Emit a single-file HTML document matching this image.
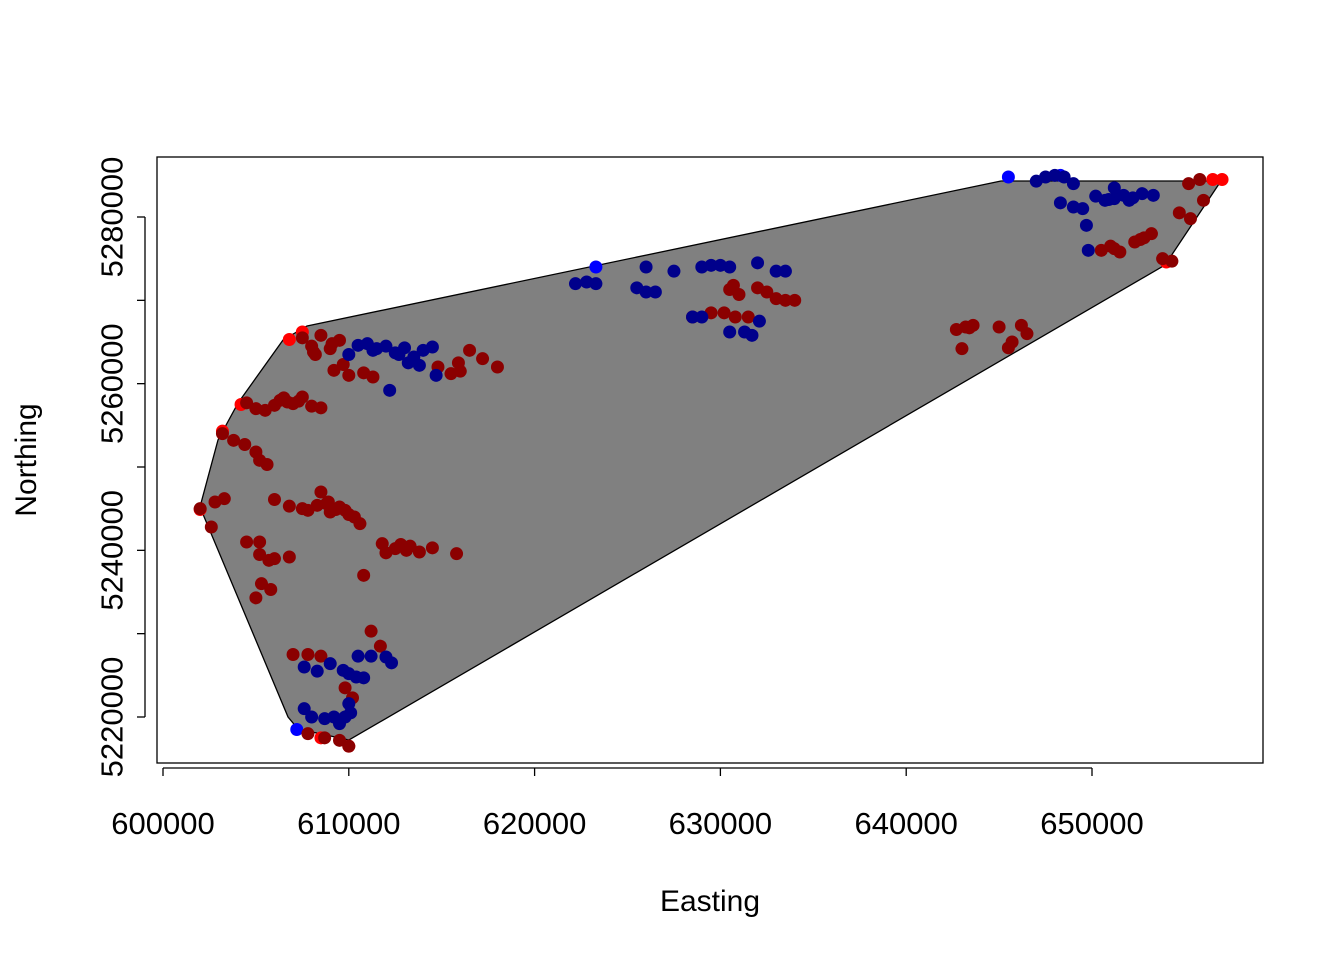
<!DOCTYPE html>
<html><head><meta charset="utf-8"><style>
body{margin:0;background:#fff}
svg text{font-family:"Liberation Sans",Arial,sans-serif;fill:#000}
</style></head><body>
<svg id="chart" width="1344" height="960" xmlns="http://www.w3.org/2000/svg">
<rect width="1344" height="960" fill="#fff"/>
<g id="hull"></g>
<g id="pts"></g>
<rect x="157" y="157" width="1106" height="606" fill="none" stroke="#000" stroke-width="1.3"/>
<g id="axes"></g>
<text x="710" y="911" font-size="30" text-anchor="middle">Easting</text>
<text x="36" y="460" font-size="30" text-anchor="middle" transform="rotate(-90 36 460)">Northing</text>
</svg>
<script>
const xTicks=[600000,610000,620000,630000,640000,650000];
const yTicks=[5220000,5230000,5240000,5250000,5260000,5270000,5280000];
const yTickLabels=["5220000","","5240000","","5260000","","5280000"];
const hullX=[607750,645100,656940,653930,610010,607270,606730,601990,602960,604040,606460];
const hullY=[5266920,5284320,5284320,5274240,5217240,5218560,5220000,5245200,5253240,5257680,5265240];
const darkRedX=[607500,608000,608500,609000,609500,608200,609200,610000,610800,611300,609700,604500,605000,605500,606500,607000,607500,608000,608500,606000,603200,603800,604400,605000,605600,605200,602000,602800,603300,602600,606000,606800,607500,608300,609000,609500,610000,610600,608500,607800,604500,605200,605200,606000,606800,605700,605300,605800,605000,610800,611800,612500,613300,613800,612000,614500,615800,611200,611700,607000,607800,608500,609800,610200,607800,608700,609500,610000,614800,615500,616000,616500,617200,618000,615900,628500,629500,630200,630800,630500,631000,631500,632500,633000,633500,634000,632000,642700,643200,643600,645000,646200,646500,645700,643000,645500,650500,651000,651500,652300,652800,653200,653800,654300,654700,655300,655800,656000,655200,608800,609300,609800,610300,609100,606300,606700,607300,612800,613100,643400,651200,652600,608100,608900,630700];
const darkRedY=[5265500,5264500,5265800,5264200,5265200,5263500,5261600,5261000,5261300,5260800,5262300,5257700,5257000,5256800,5258300,5257600,5258400,5257300,5257100,5257400,5254000,5253200,5252700,5251800,5250300,5250800,5245000,5245800,5246200,5242800,5246100,5245300,5245000,5245400,5244600,5245200,5244300,5243200,5247000,5244800,5241000,5241000,5239500,5239000,5239200,5238800,5236000,5235300,5234300,5237000,5240800,5240200,5240500,5239800,5239700,5240300,5239600,5230300,5228500,5227500,5227500,5227300,5223500,5222300,5218000,5217500,5217200,5216500,5262000,5261200,5261500,5264000,5263000,5262000,5262500,5268000,5268500,5268500,5268000,5271300,5270700,5268000,5271000,5270200,5270000,5270000,5271500,5266500,5266800,5267000,5266800,5267000,5266000,5265000,5264200,5264300,5276000,5276500,5275800,5277000,5277500,5278000,5275000,5274700,5280500,5279800,5284500,5282000,5284000,5245600,5244900,5244800,5244000,5264800,5258000,5257800,5257900,5240700,5240000,5266700,5276200,5277300,5263800,5245800,5271800];
const darkBlueX=[610000,610500,611000,611500,612000,612500,613000,613500,614000,614500,613200,614700,612200,613800,622200,622800,623300,625500,626000,626500,626000,627500,629000,629500,630000,630500,632000,633000,633500,628500,629000,630500,631300,631700,632100,647000,647500,648000,648500,649000,648300,649000,649500,649700,650200,650700,651200,651700,652200,652700,653300,651200,649800,607600,608300,609000,609700,610000,610400,610800,610500,611200,612000,612300,607600,608000,608700,609200,609800,610100,610000,609500,611300,612700,650900,652000];
const darkBlueY=[5263500,5264600,5264800,5264200,5264500,5263700,5264300,5263200,5264000,5264400,5262500,5261000,5259200,5262200,5272000,5272200,5272000,5271500,5271000,5271000,5274000,5273500,5274000,5274200,5274200,5274000,5274500,5273500,5273500,5268000,5268000,5266200,5266200,5265800,5267500,5284300,5284800,5285000,5284800,5284000,5281700,5281200,5281000,5279000,5282500,5282000,5282200,5282600,5282300,5282800,5282600,5283500,5276000,5226000,5225500,5226400,5225600,5225200,5224800,5224700,5227300,5227300,5227200,5226500,5221000,5220000,5219800,5220000,5220000,5220500,5221600,5219200,5264000,5263500,5282100,5282000];
const redX=[602000,604200,603200,606800,607500,610000,608500,654000,656500,657000];
const redY=[5244900,5257500,5254300,5265300,5266200,5216500,5217500,5274600,5284500,5284500];
const blueX=[607200,623300,645500,648300];
const blueY=[5218500,5274000,5284800,5285000];

const sx=v=>163+(v-600000)*0.01858;
const sy=v=>217-(v-5280000)*0.0083333;
const NS="http://www.w3.org/2000/svg";
function mk(tag,attrs,parent){const e=document.createElementNS(NS,tag);for(const k in attrs)e.setAttribute(k,attrs[k]);parent.appendChild(e);return e;}

const hull=document.getElementById('hull');
const poly=mk('polygon',{points:hullX.map((x,i)=>sx(x)+','+sy(hullY[i])).join(' '),fill:'#808080',stroke:'#000','stroke-width':1.3},hull);



const pts=document.getElementById('pts');
function drawSeries(xs,ys,col,name){xs.forEach((x,i)=>{const c=mk('circle',{cx:sx(x),cy:sy(ys[i]),r:6.5,fill:col},pts);

});}
drawSeries(redX,redY,'#FF0000','red-point');
drawSeries(blueX,blueY,'#0000FF','blue-point');
drawSeries(darkRedX,darkRedY,'#8B0000','darkred-point');
drawSeries(darkBlueX,darkBlueY,'#00008B','darkblue-point');

const axes=document.getElementById('axes');
const xl=mk('line',{x1:sx(xTicks[0]),x2:sx(xTicks[xTicks.length-1]),y1:768,y2:768,stroke:'#000','stroke-width':1.3},axes);


xTicks.forEach(t=>{const l=mk('line',{x1:sx(t),x2:sx(t),y1:768,y2:776,stroke:'#000','stroke-width':1.3},axes);


const tx=mk('text',{x:sx(t),y:834,'font-size':31,'text-anchor':'middle'},axes);tx.textContent=String(t);

});
const yl=mk('line',{x1:145,x2:145,y1:sy(yTicks[0]),y2:sy(yTicks[yTicks.length-1]),stroke:'#000','stroke-width':1.3},axes);


yTicks.forEach((t,i)=>{const y=sy(t);const l=mk('line',{x1:137,x2:145,y1:y,y2:y,stroke:'#000','stroke-width':1.3},axes);


if(yTickLabels[i]){const tx=mk('text',{x:112,y:y,'font-size':31,'text-anchor':'middle','dominant-baseline':'central',transform:'rotate(-90 112 '+y+')'},axes);tx.textContent=yTickLabels[i];

}});
</script>
</body></html>
